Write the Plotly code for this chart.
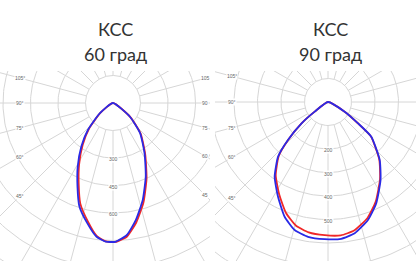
import numpy as np
import plotly.graph_objects as go

W, H = 416, 261

# ---------------- data ----------------
# angles measured from nadir (0 = straight down), positive to the right
angles_60 = [-58, -52, -43, -36, -29, -23, -18, -12, -7, -3, 1, 6, 11, 17, 24, 32, 42, 51, 57]
blue_60 = [0, 92, 201, 294, 397, 496, 593, 671, 735, 757, 757, 724, 651, 554, 439, 325, 221, 119, 0]
red_60 = [0, 86, 192, 281, 381, 479, 577, 660, 730, 756, 758, 732, 664, 568, 450, 332, 226, 122, 0]

angles_90 = [-60, -54, -51, -46.5, -42.4, -35.5, -27.8, -20.7, -14.6, -8.4, -1.4, 5.5, 11.5,
             18.7, 25.5, 34, 41.7, 51.3, 54.6, 59.8, 63]
blue_90 = [0, 70, 146, 235, 315, 391, 456, 522, 563, 580, 584, 585, 570, 530, 477, 400, 331,
           236, 157, 82, 0]
red_90 = [0, 70, 146, 233, 311, 383, 445, 505, 543, 561, 567, 570, 558, 522, 471, 396, 328,
          234, 156, 82, 0]

rings_60 = [150, 300, 450, 600, 750, 900, 1050, 1200]
rings_90 = [100, 200, 300, 400, 500, 600, 700, 800, 900, 1000]
ring_labels_60 = [300, 450, 600]
ring_labels_90 = [200, 300, 400, 500]
grid_angles = list(range(0, 360, 15))
side_angles = [105, 90, 75, 60, 45]

titles = [("КСС", "60 град"), ("КСС", "90 град")]

# ---------------- helpers ----------------
def to_xy(theta_deg, r):
    t = np.radians(np.asarray(theta_deg, dtype=float))
    r = np.asarray(r, dtype=float)
    return r * np.sin(t), -r * np.cos(t)


def grid_traces(rings, xa, ya):
    phi = np.linspace(0, 360, 241)
    xs, ys = [], []
    for R in rings:
        x, y = to_xy(phi, np.full_like(phi, R))
        xs += list(x) + [None]
        ys += list(y) + [None]
    for a in grid_angles:
        x, y = to_xy([a, a], [rings[0], rings[-1] * 1.5])
        xs += list(x) + [None]
        ys += list(y) + [None]
    return go.Scatter(x=xs, y=ys, mode="lines", xaxis=xa, yaxis=ya,
                      line=dict(color="#d6d6d6", width=1), hoverinfo="skip",
                      showlegend=False)


def curve(theta, r, color, xa, ya):
    x, y = to_xy(theta, r)
    return go.Scatter(x=x, y=y, mode="lines", xaxis=xa, yaxis=ya,
                      line=dict(color=color, width=1.8, shape="spline", smoothing=0.5),
                      hoverinfo="skip", showlegend=False)


fig = go.Figure()

# chart geometry (pixels)
L = dict(cx=113, cy=103, s=27.5, step=150, x0=0, x1=210)
R = dict(cx=328, cy=102, s=23.5, step=100, x0=215, x1=416)
top_px = 71

fig.add_trace(grid_traces(rings_60, "x", "y"))
fig.add_trace(curve(angles_60, red_60, "#f02828", "x", "y"))
fig.add_trace(curve(angles_60, blue_60, "#2a2ae6", "x", "y"))

fig.add_trace(grid_traces(rings_90, "x2", "y2"))
fig.add_trace(curve(angles_90, red_90, "#f02828", "x2", "y2"))
fig.add_trace(curve(angles_90, blue_90, "#2a2ae6", "x2", "y2"))


def axis_ranges(g):
    k = g["step"] / g["s"]
    xr = [(g["x0"] - g["cx"]) * k, (g["x1"] - g["cx"]) * k]
    yr = [-(H - g["cy"]) * k, (g["cy"] - top_px) * k]
    return k, xr, yr


kL, xrL, yrL = axis_ranges(L)
kR, xrR, yrR = axis_ranges(R)

ax_common = dict(visible=False, showgrid=False, zeroline=False, fixedrange=True)
fig.update_layout(
    width=W, height=H,
    margin=dict(l=0, r=0, t=0, b=0),
    paper_bgcolor="white", plot_bgcolor="white",
    xaxis=dict(domain=[L["x0"] / W, L["x1"] / W], range=xrL, **ax_common),
    yaxis=dict(domain=[0, (H - top_px) / H], range=yrL, **ax_common),
    xaxis2=dict(domain=[R["x0"] / W, R["x1"] / W], range=xrR, **ax_common),
    yaxis2=dict(domain=[0, (H - top_px) / H], range=yrR, **ax_common),
)

annots = []
small = dict(size=5, color="#666666", family="Arial, Liberation Sans, sans-serif")

# ring labels
for v in ring_labels_60:
    annots.append(dict(x=0, y=-v, xref="x", yref="y", text=str(v), showarrow=False,
                       font=small, bgcolor="white", borderpad=0, yshift=-1))
for v in ring_labels_90:
    annots.append(dict(x=0, y=-v, xref="x2", yref="y2", text=str(v), showarrow=False,
                       font=small, bgcolor="white", borderpad=0, yshift=-1))


def side_labels(g, k, xref, yref, offset_px, suffix):
    out = []
    for a in side_angles:
        sgn = np.sign(offset_px)
        th = np.radians(a * sgn)
        X = offset_px * k
        t = X / np.sin(th)
        Y = -t * np.cos(th)
        out.append(dict(x=X, y=Y, xref=xref, yref=yref, text=f"{a}{suffix}",
                        showarrow=False, font=small, bgcolor="white", borderpad=0))
    return out


annots += side_labels(L, kL, "x", "y", -93, "°")
annots += side_labels(L, kL, "x", "y", 92, "")
annots += side_labels(R, kR, "x2", "y2", -96, "°")

# titles
title_font = dict(size=18, color="#333333", family="Lato, Noto Sans, sans-serif")
for (l1, l2), cx in zip(titles, [115, 330]):
    annots.append(dict(x=cx / W, y=1 - 28.5 / H, xref="paper", yref="paper", text=l1,
                       showarrow=False, font=title_font, xanchor="center", yanchor="middle"))
    annots.append(dict(x=cx / W, y=1 - 54 / H, xref="paper", yref="paper", text=l2,
                       showarrow=False, font=title_font, xanchor="center", yanchor="middle"))

fig.update_layout(annotations=annots)
fig.write_html("out.html", config={"displayModeBar": False},
               post_script="document.body.style.margin='0';document.body.style.overflow='hidden';")
